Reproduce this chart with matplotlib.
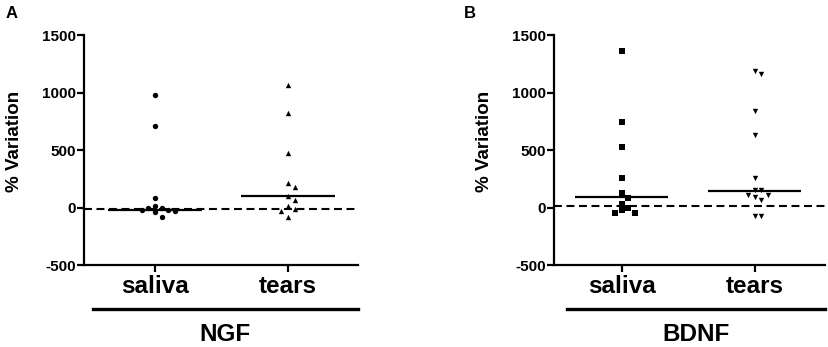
import numpy as np
import matplotlib
matplotlib.use("Agg")
import matplotlib.pyplot as plt

plt.rcParams["font.family"] = ["Liberation Sans", "DejaVu Sans"]
plt.rcParams["font.weight"] = "bold"
plt.rcParams["axes.unicode_minus"] = False

# values (% variation)
categories = ["saliva", "tears"]

ngf_saliva = [980, 710, 85, 9, -3, -6, -20, -26, -32, -41, -84]
ngf_tears = [1061, 820, 478, 215, 177, 98, 67, 9, -11, -32, -84]
ngf_medians = [-18, 100]
ngf_baseline = -10

bdnf_saliva = [1360, 742, 530, 258, 130, 87, 32, -6, -23, -50, -50]
bdnf_tears = [1185, 1157, 835, 632, 255, 148, 148, 110, 110, 90, 61, -78, -78]
bdnf_medians = [90, 142]
bdnf_baseline = 12

yticks = [-500, 0, 500, 1000, 1500]


def swarm_offsets(vals, xscale=133.0, yscale=0.115, diam=5.5, step=6.6):
    """simple beeswarm: stack points side by side when they'd overlap (pixel units)."""
    order = np.argsort(vals)[::-1]
    cols = {}
    offs = np.zeros(len(vals))
    for i in order:
        v = vals[i]
        for k in [0, 1, -1, 2, -2, 3, -3, 4, -4]:
            if all(abs(v - u) * yscale >= diam for u in cols.get(k, [])):
                cols.setdefault(k, []).append(v)
                offs[i] = k * step / xscale
                break
    return offs


def panel(ax, groups, markers, medians, baseline, xlim, title, bracket_x0, label_x):
    for i, (vals, m) in enumerate(zip(groups, markers)):
        vals = np.asarray(vals, dtype=float)
        x = i + 1 + swarm_offsets(vals)
        ax.scatter(x, vals, marker=m, s=15, color="black", linewidths=0, zorder=3)
        ax.plot([i + 1 - 0.35, i + 1 + 0.35], [medians[i], medians[i]],
                color="black", lw=1.6, zorder=4, solid_capstyle="butt")
    ax.axhline(baseline, color="black", lw=1.5, ls=(0, (3.8, 2.2)), zorder=2)

    ax.set_xlim(*xlim)
    ax.set_ylim(-500, 1500)
    ax.set_yticks(yticks)
    ax.set_xticks([1, 2])
    ax.set_xticklabels(categories, fontsize=17.5, fontweight="bold")
    ax.set_ylabel("% Variation", fontsize=13.5, fontweight="bold")
    ax.yaxis.set_label_coords(label_x, 0.537)
    for s in ["top", "right"]:
        ax.spines[s].set_visible(False)
    for s in ["left", "bottom"]:
        ax.spines[s].set_linewidth(1.6)
    ax.tick_params(axis="y", length=5, width=1.6, labelsize=11, pad=1)
    ax.tick_params(axis="x", length=5, width=1.6, pad=2)
    for lab in ax.get_yticklabels():
        lab.set_fontweight("bold")

    # grouping bracket under the categories
    ax.plot([bracket_x0, 1.0], [-0.192, -0.192], transform=ax.transAxes,
            color="black", lw=2.4, clip_on=False)
    ax.text((bracket_x0 + 1.0) / 2, -0.30, title, transform=ax.transAxes,
            ha="center", va="center", fontsize=17.5, fontweight="bold")


fig = plt.figure(figsize=(8.29, 3.47), dpi=100)
ax_a = fig.add_axes([0.1013, 0.2363, 0.3305, 0.6628])
ax_b = fig.add_axes([0.6683, 0.2363, 0.3269, 0.6628])

panel(ax_a, [ngf_saliva, ngf_tears], ["o", "^"], ngf_medians, ngf_baseline,
      (0.466, 2.526), "NGF", 0.033, -0.222)
panel(ax_b, [bdnf_saliva, bdnf_tears], ["s", "v"], bdnf_medians, bdnf_baseline,
      (0.49, 2.53), "BDNF", 0.048, -0.225)

fig.text(0.0145, 0.962, "A", fontsize=12, fontweight="bold", ha="center", va="center")
fig.text(0.567, 0.962, "B", fontsize=12, fontweight="bold", ha="center", va="center")

fig.savefig("out.png", dpi=100)
